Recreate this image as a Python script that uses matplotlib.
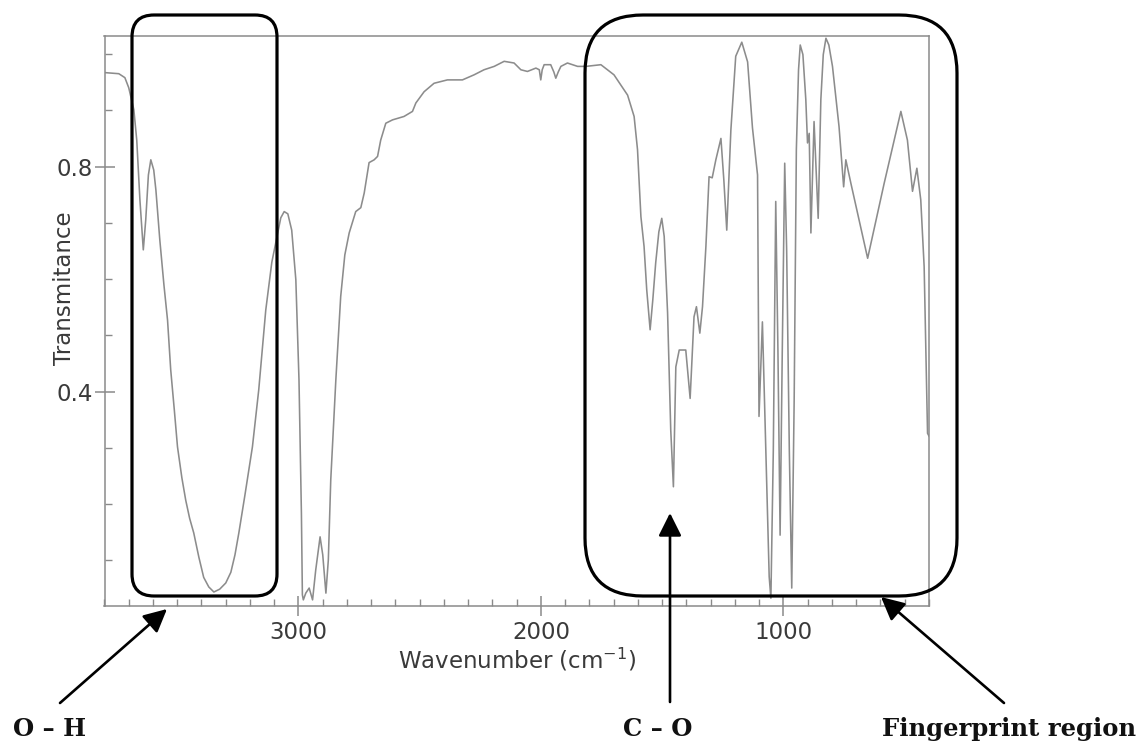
import matplotlib
matplotlib.use('Agg')
import matplotlib.pyplot as plt
from matplotlib.patches import FancyBboxPatch, FancyArrowPatch
from matplotlib.ticker import MultipleLocator, FixedLocator

# ---- data (wavenumber in cm^-1, transmittance) ----
wavenumber = [3800, 3741, 3716, 3700, 3679, 3667, 3654, 3640, 3630, 3619,
              3609, 3597, 3588, 3572, 3555, 3540, 3527, 3512, 3499, 3481,
              3465, 3449, 3432, 3411, 3391, 3370, 3349, 3325, 3300, 3279,
              3262, 3246, 3221, 3190, 3164, 3135, 3110, 3085, 3073, 3059,
              3044, 3028, 3011, 2998, 2988, 2984,
              2980, 2970, 2956, 2942, 2929, 2911, 2900, 2887, 2877, 2867,
              2846, 2826, 2809, 2791, 2764, 2743, 2729, 2709, 2688, 2674,
              2661, 2640, 2612, 2565, 2530, 2516, 2482, 2441, 2386, 2324,
              2276, 2235, 2193, 2152, 2111, 2083, 2056, 2021, 2007, 2001,
              1995, 1987, 1960, 1947, 1939, 1929, 1918, 1891, 1849, 1815,
              1753, 1699, 1643, 1616, 1602, 1588, 1575, 1564, 1550, 1539,
              1527, 1514, 1502, 1492, 1478, 1465, 1454, 1444, 1430, 1403,
              1385, 1369, 1359, 1345, 1334, 1320, 1307, 1294, 1279, 1258,
              1246, 1234, 1217, 1197, 1172, 1148, 1128, 1107, 1101, 1087,
              1073, 1059, 1052, 1042, 1032, 1023, 1014, 1005, 995, 987,
              976, 966, 956, 947, 938, 931, 920, 908, 901, 894,
              887, 874, 857, 846, 836, 825, 813, 798, 771, 752,
              743, 722, 653, 585, 516, 489, 468, 450, 434, 420,
              406, 400]
transmittance = [0.967, 0.965, 0.958, 0.940, 0.901, 0.847, 0.741, 0.652, 0.705, 0.785,
                 0.812, 0.794, 0.758, 0.670, 0.590, 0.527, 0.439, 0.367, 0.302, 0.247,
                 0.207, 0.175, 0.149, 0.106, 0.070, 0.053, 0.044, 0.049, 0.060, 0.079,
                 0.110, 0.149, 0.216, 0.302, 0.403, 0.545, 0.630, 0.684, 0.709, 0.720,
                 0.716, 0.687, 0.599, 0.421, 0.184, 0.039,
                 0.030, 0.042, 0.051, 0.030, 0.083, 0.142, 0.110, 0.042, 0.101, 0.243,
                 0.421, 0.569, 0.643, 0.682, 0.720, 0.727, 0.753, 0.807, 0.812, 0.818,
                 0.847, 0.877, 0.883, 0.889, 0.898, 0.913, 0.933, 0.948, 0.954, 0.954,
                 0.963, 0.972, 0.978, 0.987, 0.984, 0.972, 0.969, 0.975, 0.972, 0.954,
                 0.972, 0.981, 0.981, 0.968, 0.957, 0.968, 0.978, 0.984, 0.978, 0.978,
                 0.981, 0.963, 0.927, 0.889, 0.830, 0.711, 0.658, 0.581, 0.510, 0.563,
                 0.629, 0.684, 0.708, 0.676, 0.540, 0.332, 0.231, 0.444, 0.474, 0.474,
                 0.388, 0.533, 0.551, 0.504, 0.551, 0.658, 0.782, 0.780, 0.812, 0.850,
                 0.776, 0.687, 0.865, 0.996, 1.021, 0.986, 0.869, 0.785, 0.356, 0.524,
                 0.296, 0.071, 0.033, 0.296, 0.738, 0.474, 0.145, 0.474, 0.806, 0.652,
                 0.296, 0.051, 0.385, 0.830, 0.972, 1.016, 0.999, 0.919, 0.842, 0.859,
                 0.682, 0.880, 0.708, 0.919, 0.999, 1.028, 1.016, 0.978, 0.871, 0.764,
                 0.812, 0.770, 0.637, 0.770, 0.898, 0.847, 0.756, 0.797, 0.741, 0.622,
                 0.326, 0.321]

x_tick_values = [3000, 2000, 1000]
y_tick_values = [0.4, 0.8]
x_label = 'Wavenumber (cm$^{-1}$)'
y_label = 'Transmitance'
annotation_labels = ['O – H', 'C – O', 'Fingerprint region']

W, H = 1142, 745
fig = plt.figure(figsize=(W / 100, H / 100), dpi=100)
ax_l, ax_r, ax_t, ax_b = 104.5, 929.0, 36.0, 605.5
ax = fig.add_axes([ax_l / W, 1 - ax_b / H, (ax_r - ax_l) / W, (ax_b - ax_t) / H])

ax.plot(wavenumber, transmittance, color='#8c8c8c', lw=1.15)
ax.set_xlim(3800, 400)
ax.set_ylim(0.02, 1.032)

spine_c = '#8a8a8a'
for s in ax.spines.values():
    s.set_color(spine_c)
    s.set_linewidth(1.1)

ax.xaxis.set_major_locator(FixedLocator(x_tick_values))
ax.xaxis.set_minor_locator(MultipleLocator(100))
ax.yaxis.set_major_locator(FixedLocator(y_tick_values))
ax.yaxis.set_minor_locator(MultipleLocator(0.1))
ax.set_xticklabels([str(v) for v in x_tick_values])
ax.set_yticklabels([str(v) for v in y_tick_values])
ax.tick_params(which='major', direction='inout', length=14, width=1.1,
               color=spine_c, labelsize=16.5, labelcolor='#3a3a3a',
               top=False, right=False)
ax.tick_params(axis='y', which='major', pad=1.2)
ax.tick_params(axis='x', which='major', pad=4)
ax.tick_params(which='minor', direction='in', length=5, width=1.0,
               color=spine_c, top=False, right=False)

ax.set_xlabel(x_label, fontsize=16.5, color='#3a3a3a')
ax.set_ylabel(y_label, fontsize=16.5, color='#3a3a3a')
ax.xaxis.label.set_va('center')
ax.yaxis.label.set_va('center')
ax.xaxis.set_label_coords((517 - ax_l) / (ax_r - ax_l), (ax_b - 660) / (ax_b - ax_t))
ax.yaxis.set_label_coords((64.5 - ax_l) / (ax_r - ax_l), (ax_b - 288) / (ax_b - ax_t))


def inch(px, py):
    return (px / 100.0, (H - py) / 100.0)


def rbox(x0, y0, x1, y1, r):
    p = FancyBboxPatch(inch(x0, y1), (x1 - x0) / 100.0, (y1 - y0) / 100.0,
                       boxstyle='round,pad=0,rounding_size=%g' % (r / 100.0),
                       transform=fig.dpi_scale_trans, fill=False,
                       ec='black', lw=2.3, zorder=10)
    fig.add_artist(p)


rbox(132, 15, 277, 596, 22)
rbox(585, 15, 957, 596, 58)


def arrow(tail, tip):
    a = FancyArrowPatch(inch(*tail), inch(*tip), transform=fig.dpi_scale_trans,
                        arrowstyle='-|>,head_length=0.7,head_width=0.35',
                        mutation_scale=20, color='black', lw=1.9,
                        shrinkA=0, shrinkB=0, zorder=10)
    fig.add_artist(a)


arrow((60, 703), (167, 609))
arrow((670, 702), (670, 513))
arrow((1004, 703), (881, 597))

label_pos = [(50, 729), (658, 729), (1009, 729)]
for (lx, ly), txt in zip(label_pos, annotation_labels):
    fig.text(lx / W, 1 - ly / H, txt, ha='center', va='center',
             family='DejaVu Serif', weight='bold', fontsize=17.5, color='#111111')

fig.savefig('out.png', dpi=100)
